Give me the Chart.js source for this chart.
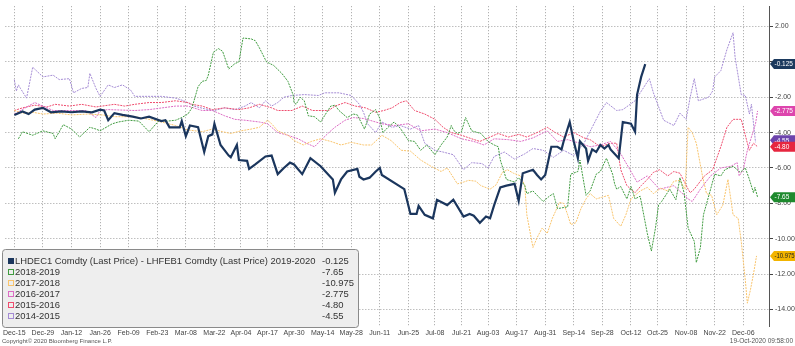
<!DOCTYPE html>
<html>
<head>
<meta charset="utf-8">
<script src="https://cdn.jsdelivr.net/npm/chart.js@4.4.0/dist/chart.umd.min.js"></script>
<style>
  html, body { margin: 0; padding: 0; background: #fff; overflow: hidden; }
  canvas { display: block; }
</style>
</head>
<body>
<canvas id="spread" width="795" height="346"></canvas>
<script>
// x values are calendar days counted from Dec-15
const tickDays = [0,14,28,42,56,70,84,98,111,124,137,151,165,179,193,206,219,232,246,260,274,288,302,315,329,343,357];
const tickLabels = ["Dec-15","Dec-29","Jan-12","Jan-26","Feb-09","Feb-23","Mar-08","Mar-22","Apr-04","Apr-17","Apr-30","May-14","May-28","Jun-11","Jun-25","Jul-08","Jul-21","Aug-03","Aug-17","Aug-31","Sep-14","Sep-28","Oct-12","Oct-25","Nov-08","Nov-22","Dec-06"];

// 2019-2020
const days2020 = [0,4,7,10,14,18,23,28,33,38,42,44,46,49,53,58,62,66,72,74,76,81,82,84,86,90,93,95,97,98,101,105,106,109,110,114,115,118,123,126,129,132,135,137,141,145,150,156,157,160,163,168,169,171,174,177,179,180,191,194,197,198,201,205,207,212,215,220,223,225,228,231,233,235,238,241,245,247,249,254,256,258,260,263,266,268,269,272,274,276,277,280,281,283,285,287,289,291,292,296,298,302,304,305,307,309];
const vals2020 = [-3.0,-2.8,-2.95,-2.7,-2.6,-2.85,-2.8,-2.85,-2.8,-2.85,-2.7,-2.75,-3.3,-2.9,-3.0,-3.1,-3.2,-3.1,-3.35,-3.3,-3.7,-3.7,-3.35,-4.2,-3.6,-3.7,-5.1,-4.2,-4.1,-3.5,-4.7,-5.3,-5.4,-4.7,-5.55,-5.6,-6.05,-5.8,-5.35,-5.3,-6.35,-6.0,-5.7,-5.8,-6.35,-5.45,-5.9,-6.65,-7.4,-6.65,-6.2,-6.05,-6.5,-6.65,-6.55,-6.2,-6.0,-6.4,-7.2,-8.6,-8.6,-8.15,-8.65,-8.85,-7.8,-8.1,-7.8,-8.75,-8.6,-8.7,-9.1,-8.75,-8.85,-8.1,-7.1,-7.0,-6.9,-7.85,-6.3,-6.1,-6.4,-6.65,-6.4,-4.8,-4.8,-4.95,-4.5,-3.4,-4.5,-5.45,-4.5,-4.9,-5.6,-4.95,-5.1,-4.7,-4.9,-4.7,-4.95,-5.45,-3.4,-3.5,-3.95,-1.85,-0.85,-0.125];

// 2018-2019
const days2019 = [2,4,9,14,19,20,24,28,32,37,40,42,48,51,56,61,66,71,75,79,82,85,87,88,90,92,94,95,97.5,100,102,105,108,110,112,116,118,120,123.5,127,131,134,136.5,137,138,140,142,144,147,150,153,155,157,159,163,166,168,171.5,174,177,179,180.5,183,186,189,193,196,199,202,206,209,212,214,215,217,219,221,224,228.5,232,235,237,238,241,245,247,250,251,254,259,262,264,266,271,272.5,276,277,280,282,285,287,290,293,294,295,297,300,302,304,306.5,310,312,314,315.5,317,321,324,326,328,330,333,334,336,337.5,341,343,346,348,352,355.5,358,360,362,362.7,364];
const vals2019 = [-4.35,-3.95,-4.15,-3.9,-4.05,-4.35,-3.55,-3.8,-4.25,-3.7,-3.8,-3.9,-3.5,-3.4,-3.3,-3.35,-3.95,-3.3,-3.35,-3.3,-3.15,-2.95,-2.6,-2.2,-1.4,-1.1,-1.05,-0.75,0.55,0.75,0.6,-0.4,-0.1,0.0,1.35,1.3,1.2,0.8,0.0,-0.2,-0.65,-1.1,-1.85,-2.3,-2.4,-2.0,-2.2,-3.05,-3.1,-3.4,-2.85,-2.5,-2.45,-2.75,-3.15,-2.95,-3.0,-3.8,-2.95,-2.7,-3.2,-4.0,-3.7,-3.4,-3.75,-4.45,-4.5,-5.0,-4.7,-5.25,-4.7,-4.25,-3.6,-3.85,-4.05,-3.95,-3.15,-3.9,-4.05,-4.5,-4.7,-4.8,-5.55,-6.65,-6.8,-6.55,-7.0,-7.45,-7.3,-7.9,-7.6,-7.45,-8.3,-8.2,-6.35,-6.2,-5.55,-7.55,-7.3,-6.35,-6.2,-5.45,-6.35,-6.9,-7.2,-7.05,-7.75,-7.05,-7.75,-7.6,-9.7,-10.7,-9.4,-8.1,-7.9,-7.2,-7.8,-6.55,-7.4,-9.4,-10.15,-11.35,-10.5,-8.65,-7.2,-6.35,-6.45,-6.1,-5.9,-6.25,-6.0,-6.65,-7.4,-7.1,-7.65];

// 2017-2018
const days2018 = [0,4,9,14,21,28,36,43,49,59,66,72,79,85,92,97,102,106,111,116,120,124,126,129,134,137,141.5,145.5,150,155,160,165,171,175,180,184.5,189.5,194,199,204,209,212,217,220,222.5,226,228.5,233,236,239,241.5,244.5,248,250,251,254,256,258.5,261,263.5,267,269,271,272.5,275,277.5,280,282,285,288,291,293.5,297,299.5,302,304,306.5,310,313,316.5,320,323,326,328.5,330,332,334,337,339,341.5,344,347,349.5,352,354.5,356,358,359,360.5,362,363.5];
const vals2018 = [-2.75,-2.9,-2.85,-2.95,-2.9,-3.0,-2.95,-3.0,-3.1,-3.1,-3.25,-3.4,-3.6,-3.85,-3.95,-3.8,-3.95,-4.05,-3.9,-3.8,-3.7,-3.3,-3.5,-3.9,-4.15,-4.45,-4.7,-4.5,-4.35,-4.5,-4.7,-4.55,-4.7,-4.7,-4.15,-4.45,-5.0,-5.05,-5.55,-5.9,-6.2,-6.0,-6.9,-6.8,-6.7,-6.75,-7.0,-7.2,-6.95,-6.25,-6.1,-6.3,-6.45,-7.0,-8.65,-10.5,-9.95,-9.4,-9.7,-8.85,-7.95,-8.0,-8.65,-9.2,-9.1,-8.3,-7.75,-7.45,-7.75,-7.65,-7.55,-8.85,-9.3,-8.65,-7.75,-7.55,-7.3,-7.1,-7.45,-7.15,-7.3,-6.75,-6.7,-7.2,-3.7,-4.0,-4.6,-6.45,-7.45,-7.55,-8.65,-8.1,-6.65,-8.65,-8.85,-10.15,-12.35,-13.65,-12.9,-12.0,-10.975];

// 2016-2017
const days2017 = [0,10,19,35,40,42,46,59,66,79,85,92,97,103,108,113,120,124,127,129,134,139,143,147,150,154,157,162,166,171,180,186,193,199,206,212,219,225,230,235,242,248,254,261,266,271,277,282,287,292,297,301,305,310,316,323,330,332,336,341,346,351,354,355,357,359,361,363,364];
const vals2017 = [-2.95,-2.3,-2.75,-2.75,-3.15,-2.75,-2.7,-2.75,-2.7,-2.5,-2.5,-2.75,-2.75,-3.05,-3.25,-3.3,-3.4,-3.5,-3.8,-4.0,-4.15,-4.35,-4.6,-4.8,-4.45,-4.0,-3.7,-3.3,-3.15,-3.2,-3.5,-3.6,-3.5,-3.9,-3.8,-4.0,-4.35,-4.5,-4.7,-4.35,-4.4,-4.5,-4.3,-3.9,-4.5,-4.4,-4.6,-4.8,-4.7,-4.5,-5.2,-6.0,-6.8,-6.45,-7.2,-7.0,-7.75,-7.9,-7.2,-6.45,-6.0,-5.9,-5.7,-6.45,-6.1,-5.0,-4.25,-3.5,-2.775];

// 2015-2016
const days2016 = [0,4,10,16,20,27,33,40,43,49,54,59,66,72,79,85,87,92,97,103,110,115,120,126,129,136,141,146,154,157,162,167,172,177,181,185,189,192,196,201,206,210,214,219,224,228,233,237,242,247,251,256,261,265,269,274,279,282,287,292,295,297,300,304,307,310,313,316,320,323,326,330,331,333,338,342,346,349,352,356,359,360,362,364];
const vals2016 = [-2.75,-2.6,-2.45,-2.55,-2.4,-2.5,-2.4,-2.55,-2.5,-2.4,-2.5,-2.4,-2.3,-2.3,-2.2,-2.3,-2.4,-2.5,-2.7,-2.6,-2.7,-2.6,-2.4,-2.6,-2.75,-2.75,-2.5,-2.75,-2.75,-2.5,-2.3,-2.5,-2.6,-2.85,-2.75,-2.6,-2.3,-2.2,-2.75,-2.95,-3.25,-3.7,-4.0,-4.15,-4.35,-4.5,-4.25,-4.05,-4.25,-4.1,-4.25,-4.0,-3.7,-4.0,-4.25,-4.0,-4.3,-4.4,-4.8,-4.6,-4.6,-6.1,-7.0,-7.4,-7.0,-6.65,-6.25,-6.1,-6.45,-6.2,-6.3,-7.2,-7.4,-7.2,-6.45,-6.1,-4.8,-3.7,-3.25,-3.25,-4.6,-5.0,-4.6,-4.8];

// 2014-2015
const days2015 = [0,1,2,3,6,9,14,19,22,27,29,33,36,37,40,42,46,49,53,57,59,66,72,79,83,88,93,98,103,108,113,116,120,123,126,129,132,136,142,149,152,159,165,169,171,173,177,180,185,189,194,198,201,206,210,215,220,224,229,232,235,240,245,250,254,259,264,269,274,279,283,287,290,295,298,304,311,313,318,323,326,329,331,333,335,340,342,343,346,349,352,353,356,358,360,361,363];
const vals2015 = [-1.0,-1.65,-1.3,-1.5,-2.05,-0.3,-0.85,-0.75,-1.0,-0.95,-1.75,-1.5,-1.45,-0.65,-1.5,-1.95,-1.3,-1.45,-1.3,-1.6,-1.95,-1.95,-1.95,-2.05,-2.2,-2.5,-2.65,-2.75,-2.6,-2.7,-2.5,-2.3,-2.6,-2.2,-2.5,-2.3,-2.0,-1.9,-1.85,-1.9,-1.75,-1.75,-1.9,-2.4,-2.85,-3.5,-4.0,-3.4,-3.7,-3.6,-3.8,-3.6,-4.6,-5.0,-5.1,-5.25,-6.1,-5.7,-5.75,-6.0,-5.35,-5.1,-5.5,-5.2,-4.9,-5.0,-5.4,-5.0,-5.3,-4.6,-3.7,-2.8,-2.3,-2.75,-2.7,-2.2,-0.95,-1.75,-3.3,-3.6,-2.9,-3.25,-2.0,-0.95,-2.2,-2.0,-1.65,-0.85,-0.5,0.7,1.65,0.25,-1.85,-1.9,-2.95,-2.4,-4.55];

const series = [
  { name: "LHDEC1 Comdty (Last Price) - LHFEB1 Comdty (Last Price) 2019-2020", last: "-0.125", days: days2020, vals: vals2020, color: "#1b365d", tag: "#1c3a5e", width: 2.2, dash: [] },
  { name: "2018-2019", last: "-7.65", days: days2019, vals: vals2019, color: "#3f9b3f", tag: "#1e8a2e", width: 1, dash: [2, 1] },
  { name: "2017-2018", last: "-10.975", days: days2018, vals: vals2018, color: "#f9c46c", tag: "#f2b400", width: 1, dash: [2, 1] },
  { name: "2016-2017", last: "-2.775", days: days2017, vals: vals2017, color: "#dc6cc4", tag: "#dd45ad", width: 1, dash: [2, 1] },
  { name: "2015-2016", last: "-4.80", days: days2016, vals: vals2016, color: "#ef4d6e", tag: "#e6263f", width: 1, dash: [2, 1] },
  { name: "2014-2015", last: "-4.55", days: days2015, vals: vals2015, color: "#a48bd4", tag: "#6d44ac", width: 1, dash: [2, 1] }
];

const tickFont = { family: "'Liberation Sans', Arial, sans-serif", size: 7 };

// legend box, end-of-line tags and footer text
const bbgDecor = {
  id: 'bbgDecor',
  afterDraw(chart) {
    const ctx = chart.ctx;
    const y = chart.scales.y;
    ctx.save();

    // tags on right axis
    const order = [2, 1, 5, 4, 3, 0];
    order.forEach(i => {
      const s = series[i];
      let py = y.getPixelForValue(s.vals[s.vals.length - 1]);
      if (i === 5) py -= 2;
      const x0 = chart.chartArea.right + 1;
      ctx.fillStyle = s.tag;
      ctx.beginPath();
      ctx.moveTo(x0, py);
      ctx.lineTo(x0 + 4, py - 5);
      ctx.lineTo(795, py - 5);
      ctx.lineTo(795, py + 5);
      ctx.lineTo(x0 + 4, py + 5);
      ctx.closePath();
      ctx.fill();
      ctx.fillStyle = i === 2 ? "#222" : "#fff";
      ctx.font = "6.5px 'Liberation Sans', Arial, sans-serif";
      ctx.textAlign = "left";
      ctx.textBaseline = "middle";
      ctx.fillText(s.last, x0 + 4.5, py + 0.5, 795 - x0 - 5);
    });

    // legend box
    const bx = 2, by = 249, bw = 356, bh = 78;
    ctx.fillStyle = "#eeeeee";
    ctx.strokeStyle = "#8a8a8a";
    ctx.lineWidth = 1;
    ctx.beginPath();
    ctx.roundRect(bx + 0.5, by + 0.5, bw, bh, 3);
    ctx.fill();
    ctx.stroke();

    ctx.font = "9px 'Liberation Sans', Arial, sans-serif";
    const w = ctx.measureText(series[0].name).width;
    const size = 9 * 301 / w;
    ctx.font = size.toFixed(2) + "px 'Liberation Sans', Arial, sans-serif";
    ctx.textBaseline = "middle";
    series.forEach((s, i) => {
      const ry = 261 + i * 11;
      if (i === 0) {
        ctx.fillStyle = s.color;
        ctx.fillRect(8, ry - 3, 6, 6);
      } else {
        ctx.strokeStyle = s.color;
        ctx.strokeRect(8.5, ry - 2.5, 5, 5);
      }
      ctx.fillStyle = "#333";
      ctx.textAlign = "left";
      ctx.fillText(s.name, 15, ry + 0.5);
      ctx.fillText(s.last, 322, ry + 0.5);
    });

    // footer
    ctx.fillStyle = "#555";
    ctx.font = "6px 'Liberation Sans', Arial, sans-serif";
    ctx.textBaseline = "middle";
    ctx.textAlign = "left";
    ctx.fillText("Copyright\u00a9 2020 Bloomberg Finance L.P.", 2, 341);
    ctx.textAlign = "right";
    ctx.font = "6.5px 'Liberation Sans', Arial, sans-serif";
    ctx.fillText("19-Oct-2020 09:58:00", 793, 341);
    ctx.restore();
  }
};

new Chart(document.getElementById("spread"), {
  type: "line",
  data: {
    datasets: series.map(s => ({
      label: s.name,
      data: s.days.map((d, i) => ({ x: d, y: s.vals[i] })),
      borderColor: s.color,
      backgroundColor: s.color,
      borderWidth: s.width,
      borderDash: s.dash,
      pointRadius: 0,
      tension: 0,
      fill: false
    }))
  },
  options: {
    responsive: false,
    animation: false,
    layout: { padding: { left: 3, top: 0, right: 0, bottom: 7 } },
    plugins: { legend: { display: false }, tooltip: { enabled: false } },
    scales: {
      x: {
        type: "linear",
        min: -4.4,
        max: 369.6,
        afterBuildTicks: s => { s.ticks = tickDays.map(v => ({ value: v })); },
        afterFit: s => { s.height = 13; },
        ticks: {
          callback: (v, i) => tickLabels[i],
          font: tickFont,
          color: "#444",
          padding: 3,
          maxRotation: 0,
          autoSkip: false
        },
        grid: { color: "#a0a0a0", drawTicks: false },
        border: { display: false, dash: [1, 2] }
      },
      y: {
        position: "right",
        min: -14.94,
        max: 3.15,
        afterFit: s => { s.width = 26; },
        ticks: {
          stepSize: 2,
          includeBounds: false,
          font: tickFont,
          color: "#444",
          padding: 2,
          callback: v => v.toFixed(2)
        },
        grid: { color: "#a0a0a0", tickColor: "#444", tickLength: 4 },
        border: { display: true, color: "#555", width: 1, dash: [1, 2] }
      }
    }
  },
  plugins: [bbgDecor]
});
</script>
</body>
</html>
